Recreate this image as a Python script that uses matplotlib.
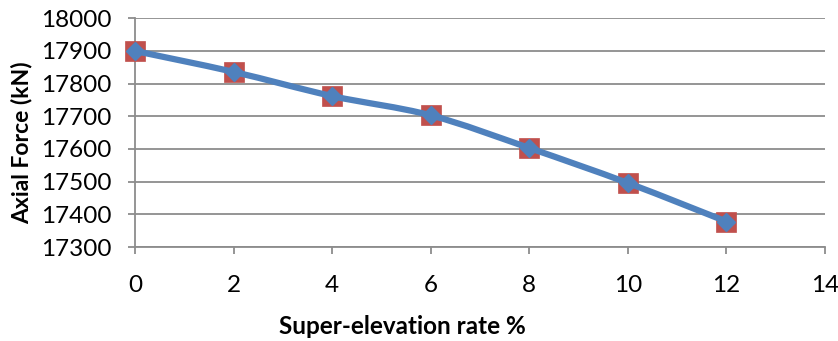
import matplotlib
matplotlib.use("Agg")
import matplotlib.pyplot as plt
from matplotlib.path import Path
from matplotlib.patches import PathPatch
import numpy as np

# Super-elevation rate (%) and axial force (kN)
rate = [0, 2, 4, 6, 8, 10, 12]
force_a = [17900, 17836, 17762, 17703, 17603, 17496, 17378]
force_b = [17900, 17836, 17762, 17703, 17603, 17496, 17378]

x_ticks = [0, 2, 4, 6, 8, 10, 12, 14]
y_ticks = [17300, 17400, 17500, 17600, 17700, 17800, 17900, 18000]

BLUE = "#4F81BD"
RED = "#C0504D"
GRID = "#8C8C8C"

plt.rcParams["font.family"] = ["Lato", "DejaVu Sans"]

fig = plt.figure(figsize=(8.38, 3.41), dpi=100)
ax = fig.add_axes([135 / 838, 1 - 247 / 341, (825 - 135) / 838, (247 - 18.3) / 341])

ax.set_xlim(0, 14)
ax.set_ylim(17300, 18000)
ax.set_xticks(x_ticks)
ax.set_yticks(y_ticks)
ax.tick_params(axis="both", labelsize=17.5, colors=GRID, labelcolor="black",
               length=5, width=1.3, direction="out")
ax.tick_params(axis="y", pad=12)
ax.tick_params(axis="x", pad=15)
ax.yaxis.grid(True, color=GRID, linewidth=1.3)
ax.set_axisbelow(True)
for side in ("top", "right"):
    ax.spines[side].set_visible(False)
for side in ("left", "bottom"):
    ax.spines[side].set_color(GRID)
    ax.spines[side].set_linewidth(1.3)

# Series drawn as red squares underneath
ax.plot(rate, force_a, linestyle="none", marker="s", markersize=14.5,
        markerfacecolor=RED, markeredgecolor=RED, markeredgewidth=0.5,
        zorder=3, clip_on=False)


def smooth_path(xs, ys):
    # Cubic Bezier through the points (Catmull-Rom style tangents)
    pts = np.column_stack([xs, ys]).astype(float)
    n = len(pts)
    verts = [pts[0]]
    codes = [Path.MOVETO]
    for i in range(n - 1):
        p0 = pts[i - 1] if i > 0 else pts[i]
        p1 = pts[i]
        p2 = pts[i + 1]
        p3 = pts[i + 2] if i + 2 < n else pts[i + 1]
        c1 = p1 + (p2 - p0) / 6.0
        c2 = p2 - (p3 - p1) / 6.0
        verts += [c1, c2, p2]
        codes += [Path.CURVE4] * 3
    return Path(verts, codes)


ax.add_patch(PathPatch(smooth_path(rate, force_b), facecolor="none",
                       edgecolor=BLUE, linewidth=4.5, capstyle="round",
                       joinstyle="round", zorder=4, clip_on=False))
ax.plot(rate, force_b, linestyle="none", marker="D", markersize=9.5,
        markerfacecolor=BLUE, markeredgecolor=BLUE, zorder=5, clip_on=False)

fig.text(22 / 838, 1 - 143 / 341, "Axial Force (kN)", rotation=90,
         ha="center", va="center", fontsize=16.5, fontweight="bold")
fig.text(402 / 838, 1 - 327 / 341, "Super-elevation rate %",
         ha="center", va="center", fontsize=17.5, fontweight="bold")

fig.savefig("out.png", dpi=100)
